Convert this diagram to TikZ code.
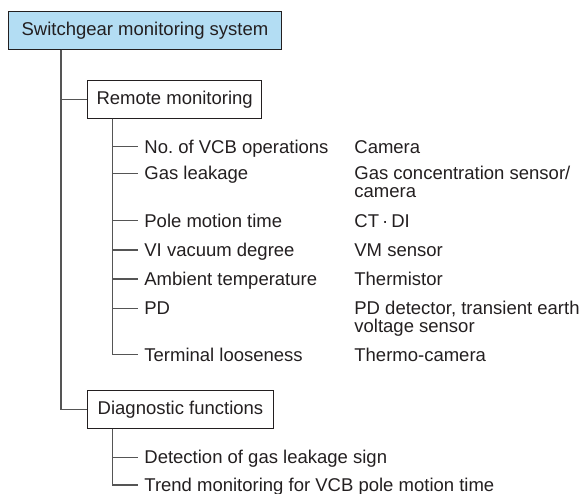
\documentclass[tikz,border=0pt]{standalone}
\usepackage{fontspec}
\setmainfont{Liberation Sans}
\frenchspacing
\definecolor{headfill}{HTML}{B3DDF3}
\definecolor{ink}{HTML}{231F20}
\definecolor{wirecol}{HTML}{555555}
\begin{document}
\begin{tikzpicture}[x=0.5pt,y=-0.5pt,
  every node/.style={font=\fontsize{9.25}{9}\selectfont, text=ink},
  box/.style={draw=ink, line width=0.5pt, minimum height=18.85pt, inner sep=0pt, anchor=north west},
  item/.style={anchor=base west, inner sep=0pt},
  sensor/.style={anchor=base west, inner sep=0pt, align=left},
  wire/.style={draw=wirecol, line width=0.55pt}]
\useasboundingbox (0,0) rectangle (586,494);

% headings
\node[box, fill=headfill, minimum width=136.2pt] (sys) at (8.3,11) {Switchgear monitoring system};
\node[box, minimum width=86.85pt] (rem) at (87.3,80) {Remote monitoring};
\node[box, minimum width=92.7pt] (diag) at (87.3,390) {Diagnostic functions};

% trunk positions
\coordinate (trunk) at (61,0);
\coordinate (sub) at (112.7,0);

% remote monitoring items (y = baseline)
\node[item] (r1) at (144,153.3) {No.\ of VCB operations};
\node[item] (r2) at (144,179.9) {Gas leakage};
\node[item] (r3) at (144,227.3) {Pole motion time};
\node[item] (r4) at (144,256.6) {VI vacuum degree};
\node[item] (r5) at (144,285.6) {Ambient temperature};
\node[item] (r6) at (144,314.9) {PD};
\node[item] (r7) at (144,361.1) {Terminal looseness};

% sensors (y = baseline of the last line)
\node[sensor] (s1) at (354,153.3) {Camera};
\node[sensor] (s2) at (354,197.9) {Gas concentration sensor/\\camera};
\node[sensor] (s3) at (354,227.3) {CT\,·\,DI};
\node[sensor] (s4) at (354,256.6) {VM sensor};
\node[sensor] (s5) at (354,285.6) {Thermistor};
\node[sensor] (s6) at (354,332.9) {PD detector, transient earth\\voltage sensor};
\node[sensor] (s7) at (354,361.1) {Thermo-camera};

% diagnostic items
\node[item] (d1) at (144,463.9) {Detection of gas leakage sign};
\node[item] (d2) at (144,491.6) {Trend monitoring for VCB pole motion time};

% tree connectors
\draw[wire] (trunk |- sys.south) |- (rem.west);
\draw[wire] (trunk |- sys.south) |- (diag.west);
\foreach \n in {r1,r2,r3,r4,r5,r6,r7}
  \draw[wire] (sub |- rem.south) |- ([xshift=-3pt,yshift=3.3pt]\n.base west);
\foreach \n in {d1,d2}
  \draw[wire] (sub |- diag.south) |- ([xshift=-3pt,yshift=3.3pt]\n.base west);
\end{tikzpicture}
\end{document}
